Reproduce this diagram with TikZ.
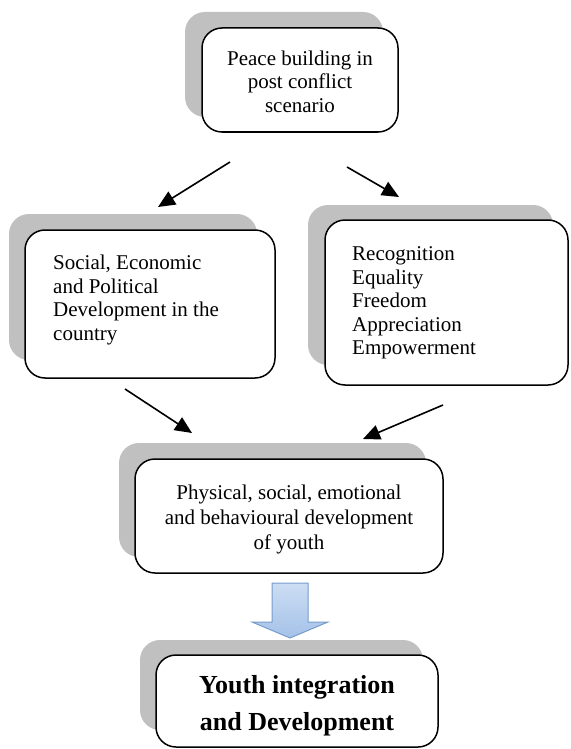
\documentclass[tikz,border=0pt]{standalone}
\usepackage{fontspec}
\setmainfont{Liberation Serif}
\usetikzlibrary{arrows.meta}
\definecolor{shadowgray}{RGB}{192,192,192}
\definecolor{arrowtop}{RGB}{204,221,243}
\definecolor{arrowbot}{RGB}{164,194,232}
\definecolor{arrowline}{RGB}{118,156,204}
\begin{document}
\begin{tikzpicture}[x=1pt,y=-1pt,
  shadowbox/.style={fill=shadowgray, rounded corners=20pt},
  mainbox/.style={draw=black, line width=1.5pt, fill=white, rounded corners=20pt, rectangle, inner sep=0pt},
  txt/.style={font=\fontsize{21}{23.5}\selectfont, inner sep=0pt},
  bigtxt/.style={font=\fontsize{26}{37}\selectfont\bfseries, inner sep=0pt},
  link/.style={line width=1.6pt, -{Triangle[length=17pt,width=15pt]}}]
\useasboundingbox (0,0) rectangle (570,749);
% shadows
\fill[shadowbox] (185,12) rectangle (383,117);
\fill[shadowbox] (9,214) rectangle (257,360);
\fill[shadowbox] (308,205) rectangle (553,365);
\fill[shadowbox] (119,443) rectangle (426,557);
\fill[shadowbox] (140,640) rectangle (423,730);
% boxes
\node[mainbox, minimum width=196pt, minimum height=104pt] (b1) at (300,80) {};
\node[mainbox, minimum width=250pt, minimum height=148pt] (b2) at (150,304) {};
\node[mainbox, minimum width=243pt, minimum height=165pt] (b3) at (446.5,302.5) {};
\node[mainbox, minimum width=308pt, minimum height=114pt] (b4) at (289,516) {};
\node[mainbox, minimum width=282pt, minimum height=92pt] (b5) at (297,701) {};
% texts
\node[txt, align=center] (t1) at (300,81.5) {Peace building in\\post conflict\\scenario};
\node[txt, align=left, anchor=west] (t2) at (53,300) {Social, Economic\\and Political\\Development in the\\country};
\node[txt, align=left, anchor=west] (t3) at (352,303) {Recognition\\Equality\\Freedom\\Appreciation\\Empowerment};
\node[txt, align=center, font=\fontsize{21}{25}\selectfont] (t4) at (289,519) {Physical, social, emotional\\and behavioural development\\of youth};
\node[bigtxt, align=center] (t5) at (297,706) {Youth integration\\and Development};
% connectors
\coordinate (a1s) at (230,162); \coordinate (a1e) at (158,207);
\coordinate (a2s) at (347,167); \coordinate (a2e) at (399,197);
\coordinate (a3s) at (125,389); \coordinate (a3e) at (192,433);
\coordinate (a4s) at (443,405); \coordinate (a4e) at (363,439);
\draw[link] (a1s) -- (a1e);
\draw[link] (a2s) -- (a2e);
\draw[link] (a3s) -- (a3e);
\draw[link] (a4s) -- (a4e);
% block arrow
\draw[draw=arrowline, line width=1pt, top color=arrowtop, bottom color=arrowbot, line join=miter]
  (272,583) -- (308,583) -- (308,622) -- (328,622) -- (290,638) -- (252,622) -- (272,622) -- cycle;
\end{tikzpicture}
\end{document}
